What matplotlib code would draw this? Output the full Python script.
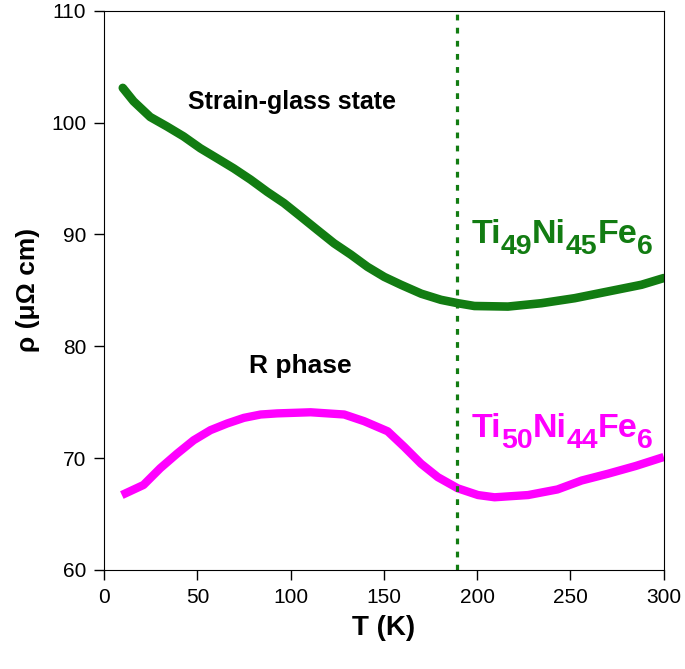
import matplotlib.pyplot as plt

plt.rcParams['font.family'] = ['Liberation Sans', 'DejaVu Sans']

# Ti49Ni45Fe6 (strain glass)
T_green = [10.0, 15.8, 24.7, 33.7, 42.6, 51.6, 60.6, 69.5, 78.5, 87.5, 96.4, 105.4, 114.3, 123.3,
           132.2, 141.2, 150.2, 159.1, 170, 180.6, 189.6, 198.5, 216.5, 234.4, 252.3, 270.2, 288.1, 300]
rho_green = [103.1, 101.9, 100.5, 99.65, 98.76, 97.7, 96.8, 95.9, 94.9, 93.8, 92.8, 91.6, 90.4, 89.2,
             88.2, 87.1, 86.2, 85.5, 84.7, 84.15, 83.85, 83.6, 83.55, 83.85, 84.3, 84.9, 85.5, 86.1]

# Ti50Ni44Fe6 (R phase)
T_mag = [9.5, 21.1, 30.1, 39.1, 48.0, 57.0, 66.0, 74.9, 83.9, 92.8, 110.7, 128.7, 139.4, 152.0,
         160.9, 169.9, 178.9, 189.6, 200.4, 209.3, 227.3, 243, 256, 270, 285, 300]
rho_mag = [66.7, 67.6, 69.1, 70.4, 71.6, 72.5, 73.1, 73.6, 73.9, 74.0, 74.1, 73.9, 73.3, 72.4,
           71.0, 69.5, 68.3, 67.3, 66.7, 66.5, 66.7, 67.2, 68.0, 68.6, 69.3, 70.1]

T_dash = 189

green = '#127c12'
magenta = '#ff00ff'

fig = plt.figure(figsize=(6.85, 6.69), dpi=100)
ax = fig.add_axes([0.152, 0.148, 0.817, 0.836])

ax.plot(T_green, rho_green, color=green, lw=6.2, solid_capstyle='round', solid_joinstyle='round')
ax.plot(T_mag, rho_mag, color=magenta, lw=6.0, solid_capstyle='butt', solid_joinstyle='round')
ax.axvline(T_dash, color=green, lw=2.3, ls=(0, (1.8, 2.3)))

ax.text(100.5, 101.8, 'Strain-glass state', fontsize=18, fontweight='bold', ha='center', va='center')
ax.text(105, 78.2, 'R phase', fontsize=19, fontweight='bold', ha='center', va='center')


def formula(x, y, parts, color):
    # parts: list of (text, is_subscript); chained so subscripts sit lower
    big, small, drop = 24.5, 20.5, 7.5
    prev = ax.text(x, y, parts[0][0], fontsize=big, fontweight='bold', color=color,
                   ha='left', va='baseline')
    prev_sub = False
    for txt, sub in parts[1:]:
        dy = -drop if sub else (drop if prev_sub else 0)
        prev = ax.annotate(txt, xy=(1, 0), xycoords=prev, xytext=(0, dy),
                           textcoords='offset points', fontsize=small if sub else big,
                           fontweight='bold', color=color, ha='left', va='bottom')
        prev_sub = sub


formula(196.8, 89.25, [('Ti', 0), ('49', 1), ('Ni', 0), ('45', 1), ('Fe', 0), ('6', 1)], green)
formula(196.8, 71.9, [('Ti', 0), ('50', 1), ('Ni', 0), ('44', 1), ('Fe', 0), ('6', 1)], magenta)

ax.set_xlim(0, 300)
ax.set_ylim(60, 110)
ax.set_xticks(range(0, 301, 50))
ax.set_yticks(range(60, 111, 10))
ax.tick_params(direction='out', length=7, width=1, labelsize=15, pad=6)
ax.set_xlabel('T (K)', fontsize=20, fontweight='bold', labelpad=6)
ax.set_ylabel('ρ (μΩ cm)', fontsize=19, fontweight='bold', labelpad=8)

plt.savefig('out.png', dpi=100)
